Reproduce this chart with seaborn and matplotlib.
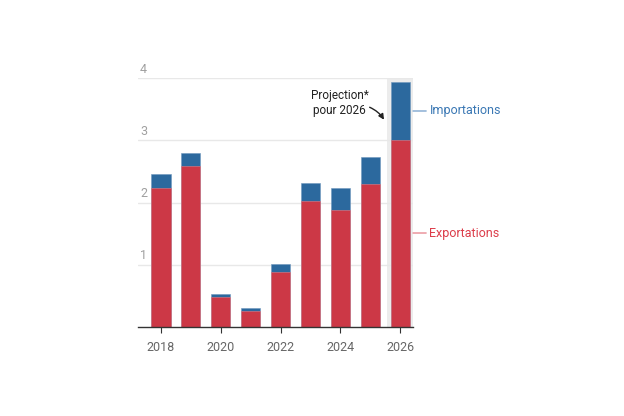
import pandas as pd
import matplotlib.pyplot as plt
import seaborn as sns

# data
years = ['2018', '2019', '2020', '2021', '2022', '2023', '2024', '2025', '2026']
exportations = [2.23, 2.58, 0.48, 0.25, 0.89, 2.03, 1.88, 2.30, 3.01]
importations = [0.22, 0.22, 0.05, 0.06, 0.13, 0.28, 0.35, 0.43, 0.93]
y_ticks = [1, 2, 3, 4]
x_labels = ['2018', '2020', '2022', '2024', '2026']

red = '#cc3846'
blue = '#2c699e'

df = pd.DataFrame({'year': years, 'exp': exportations, 'imp': importations})
df['total'] = df['exp'] + df['imp']

sns.set_style('white')
plt.rcParams['font.family'] = ['Roboto', 'DejaVu Sans']

fig = plt.figure(figsize=(6.24, 4.16), dpi=100)
ax = fig.add_axes([138 / 624, 1 - 327 / 416, 275 / 624, 249 / 416])

# highlight for projected year
ax.axvspan(7.56, 8.43, color='#ececec', zorder=0, lw=0)

sns.barplot(data=df, x='year', y='total', color=blue, width=0.64,
            saturation=1, ax=ax, zorder=2, edgecolor='#6f97bd', linewidth=0.4)
sns.barplot(data=df, x='year', y='exp', color=red, width=0.64,
            saturation=1, ax=ax, zorder=3, edgecolor='#e07c86', linewidth=0.4)

ax.set_xlim(-0.77, 8.43)
ax.set_ylim(0, 4)
ax.set_xlabel('')
ax.set_ylabel('')

for s in ['top', 'right', 'left']:
    ax.spines[s].set_visible(False)
ax.spines['bottom'].set_color('#333333')
ax.spines['bottom'].set_linewidth(1)
ax.spines['bottom'].set_zorder(5)

for v in y_ticks:
    ax.axhline(v, color='#e8e8e8', lw=1, zorder=1)
    ax.text(-0.7, v + 0.04, str(v), color='#a0a0a0', fontsize=9,
            ha='left', va='bottom')
ax.set_yticks([])

ax.set_xticks([years.index(y) for y in x_labels])
ax.set_xticklabels(x_labels, color='#666666', fontsize=9)
ax.tick_params(axis='x', length=4, width=0.8, color='#333333', pad=6,
               direction='out', bottom=True)

# series labels on the right
ax.annotate('Importations', xy=(8.43, 3.47), xytext=(8.43 + 0.55, 3.47),
            color='#3b78b4', fontsize=9, va='center', annotation_clip=False,
            arrowprops=dict(arrowstyle='-', color='#7fa6cf', lw=1,
                            shrinkA=0, shrinkB=0))
ax.annotate('Exportations', xy=(8.43, 1.51), xytext=(8.43 + 0.55, 1.51),
            color='#dc3d4a', fontsize=9, va='center', annotation_clip=False,
            arrowprops=dict(arrowstyle='-', color='#e88a93', lw=1,
                            shrinkA=0, shrinkB=0))

# projection note
ax.text(5.97, 3.6, 'Projection*\npour 2026', ha='center', va='center',
        fontsize=8.5, color='#222222', linespacing=1.25)
ax.annotate('', xy=(7.46, 3.33), xytext=(6.98, 3.53),
            arrowprops=dict(arrowstyle='-|>', color='#222222', lw=1,
                            connectionstyle='arc3,rad=-0.15',
                            shrinkA=0, shrinkB=0, mutation_scale=8))

fig.savefig('out.png', dpi=100, facecolor='white')
